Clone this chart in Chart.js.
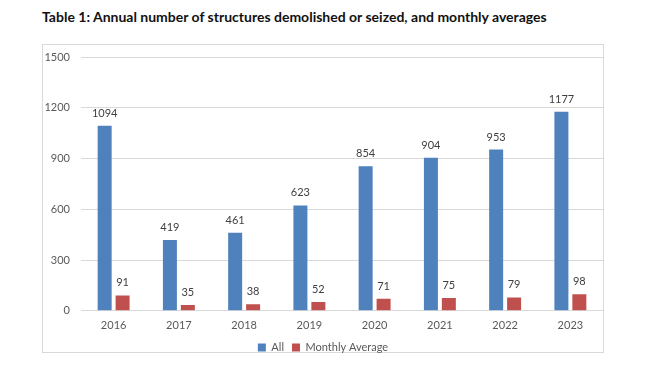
<!DOCTYPE html>
<html>
<head>
<meta charset="utf-8">
<script src="https://cdn.jsdelivr.net/npm/chart.js@4/dist/chart.umd.min.js"></script>
<style>
    body { margin: 0; background: #fff; width: 650px; height: 370px; position: relative; overflow: hidden; }
    #title {
        position: absolute; left: 42px; top: 8px;
        font-family: Lato, "Open Sans", sans-serif; font-weight: bold; font-size: 14px; color: #111;
        white-space: nowrap;
    }
    #frame {
        position: absolute; left: 42px; top: 44px; width: 560px; height: 307px;
        border: 1px solid #d9d9d9;
    }
    #structuresChart { position: absolute; left: 43px; top: 45px; display: block; }
</style>
</head>
<body>
<div id="title">Table 1: Annual number of structures demolished or seized, and monthly averages</div>
<div id="frame"></div>
<canvas id="structuresChart" width="560" height="324"></canvas>
<script>
const years = ['2016', '2017', '2018', '2019', '2020', '2021', '2022', '2023'];
const allStructures = [1094, 419, 461, 623, 854, 904, 953, 1177];
const monthlyAverage = [91, 35, 38, 52, 71, 75, 79, 98];
const yTicks = [0, 300, 600, 900, 1200, 1500];

const FONT = 'Lato, "Open Sans", sans-serif';

// draws the value above each bar
const barValueLabels = {
    id: 'barValueLabels',
    afterDatasetsDraw(chart) {
        const ctx = chart.ctx;
        ctx.save();
        ctx.font = '11px ' + FONT;
        ctx.fillStyle = '#404040';
        ctx.textAlign = 'center';
        ctx.textBaseline = 'bottom';
        chart.data.datasets.forEach((ds, i) => {
            const meta = chart.getDatasetMeta(i);
            meta.data.forEach((bar, j) => {
                ctx.fillText(ds.data[j], bar.x, bar.y - 7);
            });
        });
        ctx.restore();
    }
};

// pull the legend a little closer to the axis labels
const legendNudge = {
    id: 'legendNudge',
    afterLayout(chart) {
        const lg = chart.legend;
        if (lg) {
            lg.top -= 6;
            lg.bottom -= 6;
        }
    }
};

const ctx = document.getElementById('structuresChart');
new Chart(ctx, {
    type: 'bar',
    data: {
        labels: years,
        datasets: [{
            label: 'All',
            data: allStructures,
            backgroundColor: '#4F81BD',
            categoryPercentage: 0.55,
            barPercentage: 0.78
        }, {
            label: 'Monthly Average',
            data: monthlyAverage,
            backgroundColor: '#C0504D',
            categoryPercentage: 0.55,
            barPercentage: 0.78
        }]
    },
    options: {
        responsive: false,
        animation: false,
        layout: { padding: { top: 12, right: 0, bottom: 0, left: 0 } },
        plugins: {
            legend: {
                position: 'bottom',
                labels: {
                    boxWidth: 8,
                    boxHeight: 8,
                    padding: 8,
                    color: '#595959',
                    font: { family: FONT, size: 11 }
                }
            },
            tooltip: { enabled: false }
        },
        scales: {
            x: {
                grid: { display: true, drawOnChartArea: false, drawTicks: false },
                border: { color: '#d9d9d9' },
                ticks: { color: '#595959', font: { family: FONT, size: 11 }, padding: 8 }
            },
            y: {
                min: 0,
                max: 1500,
                afterBuildTicks: (scale) => { scale.ticks = yTicks.map(v => ({ value: v })); },
                afterFit: (scale) => { scale.width = 38; scale.paddingTop = 0; scale.paddingBottom = 0; },
                grid: { color: '#d9d9d9', drawTicks: false },
                border: { display: false },
                ticks: {
                    color: '#595959',
                    font: { family: FONT, size: 11 },
                    padding: 11,
                    callback: (v) => String(v)
                }
            }
        }
    },
    plugins: [barValueLabels, legendNudge]
});
</script>
</body>
</html>
